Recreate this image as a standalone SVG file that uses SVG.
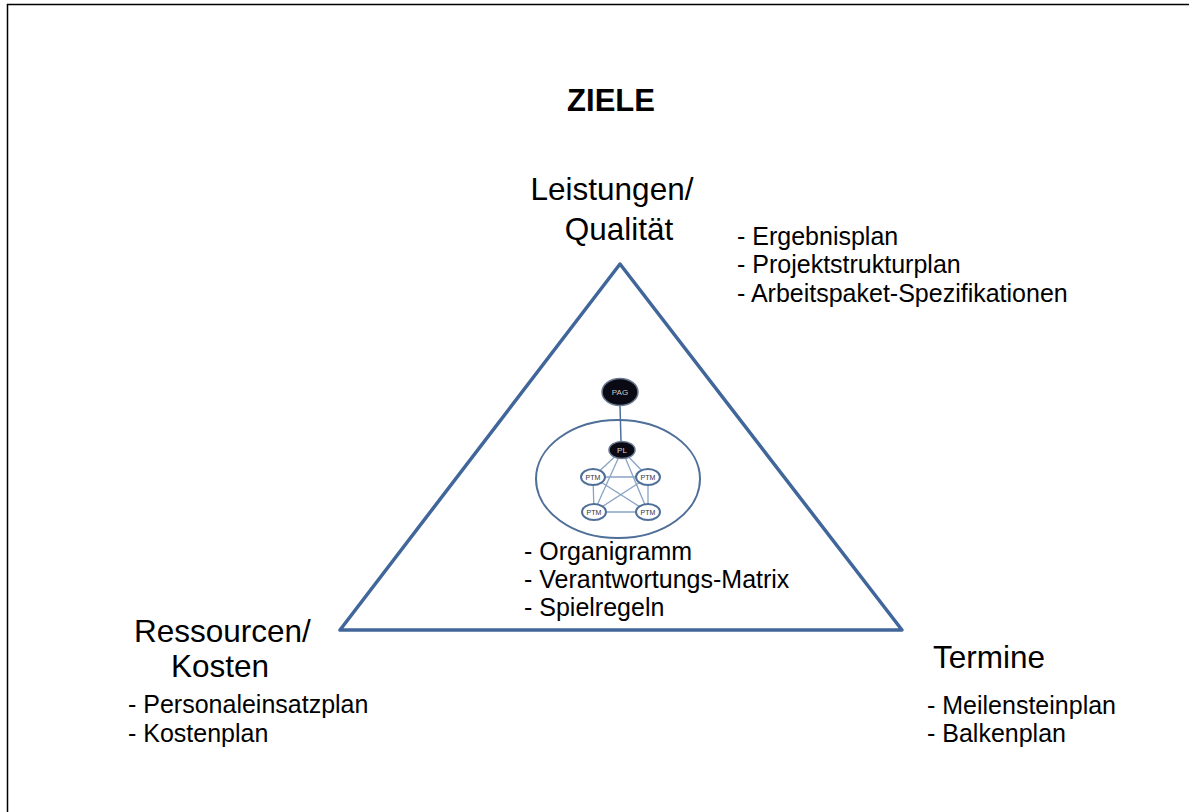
<svg xmlns="http://www.w3.org/2000/svg" width="1189" height="812" viewBox="0 0 1189 812">
<style>
text{font-family:"Liberation Sans",Arial,sans-serif;fill:#000}
.t{font-size:31.5px}
.l{font-size:25px}
.org{fill:none;stroke:#4f6f99;stroke-width:2}
.lk{stroke:#8aa3c4;stroke-width:1.3}
.ptm{fill:#fff;stroke:#4f6f99;stroke-width:2}
.nl{font-size:7px;fill:#333}
</style>
<rect width="1189" height="812" fill="#fff"/>
<path d="M7.5 812 V4.5 H1189" fill="none" stroke="#000" stroke-width="1.5"/>
<g id="triangle">
<polygon points="620,264 340,630 902,630" fill="none" stroke="#41679a" stroke-width="3.5" stroke-linejoin="round"/>
</g>
<g id="title"><text x="611" y="111" font-size="31" font-weight="bold" text-anchor="middle">ZIELE</text></g>
<g id="leistungen">
<text class="t" x="612" y="200" text-anchor="middle">Leistungen/</text>
<text class="t" x="619" y="240" text-anchor="middle">Qualität</text>
<text class="l" x="737" y="245">- Ergebnisplan</text>
<text class="l" x="737" y="273">- Projektstrukturplan</text>
<text class="l" x="737" y="302">- Arbeitspaket-Spezifikationen</text>
</g>
<g id="ressourcen">
<text class="t" x="134" y="642">Ressourcen/</text>
<text class="t" x="171" y="677">Kosten</text>
<text class="l" x="128" y="713">- Personaleinsatzplan</text>
<text class="l" x="128" y="742">- Kostenplan</text>
</g>
<g id="termine">
<text class="t" x="933" y="668">Termine</text>
<text class="l" x="927" y="714">- Meilensteinplan</text>
<text class="l" x="927" y="742">- Balkenplan</text>
</g>
<g id="organigramm">
<ellipse class="org" cx="618" cy="479" rx="82" ry="59"/>
<g id="connectors">
<line x1="620" y1="405" x2="621" y2="442" stroke="#4f6f99" stroke-width="1.5"/>
<line class="lk" x1="622" y1="450" x2="593" y2="477"/>
<line class="lk" x1="622" y1="450" x2="648" y2="477"/>
<line class="lk" x1="622" y1="450" x2="594" y2="512"/>
<line class="lk" x1="622" y1="450" x2="648" y2="512"/>
<line class="lk" x1="593" y1="477" x2="648" y2="477"/>
<line class="lk" x1="594" y1="512" x2="648" y2="512"/>
<line class="lk" x1="593" y1="477" x2="594" y2="512"/>
<line class="lk" x1="648" y1="477" x2="648" y2="512"/>
<line class="lk" x1="593" y1="477" x2="648" y2="512"/>
<line class="lk" x1="648" y1="477" x2="594" y2="512"/>
</g>
<g id="pag"><ellipse cx="620" cy="392" rx="18" ry="13.5" fill="#0a0a14" stroke="#6a7a90" stroke-width="1.5"/><text x="620" y="395" font-size="8" style="fill:#ccc" text-anchor="middle">PAG</text></g>
<g id="pl"><ellipse cx="622" cy="450" rx="13" ry="8.5" fill="#0a0a14" stroke="#6a7a90" stroke-width="1.5"/><text x="622" y="453" font-size="8" style="fill:#ddd" text-anchor="middle">PL</text></g>
<g id="ptm1"><ellipse class="ptm" cx="593" cy="477" rx="12" ry="8"/><text class="nl" x="593" y="479.5" text-anchor="middle">PTM</text></g>
<g id="ptm2"><ellipse class="ptm" cx="648" cy="477" rx="12" ry="8"/><text class="nl" x="648" y="479.5" text-anchor="middle">PTM</text></g>
<g id="ptm3"><ellipse class="ptm" cx="594" cy="512" rx="12" ry="8"/><text class="nl" x="594" y="514.5" text-anchor="middle">PTM</text></g>
<g id="ptm4"><ellipse class="ptm" cx="648" cy="512" rx="12" ry="8"/><text class="nl" x="648" y="514.5" text-anchor="middle">PTM</text></g>
<text class="l" x="524" y="560">- Organigramm</text>
<text class="l" x="524" y="588">- Verantwortungs-Matrix</text>
<text class="l" x="524" y="616">- Spielregeln</text>
</g>
</svg>
